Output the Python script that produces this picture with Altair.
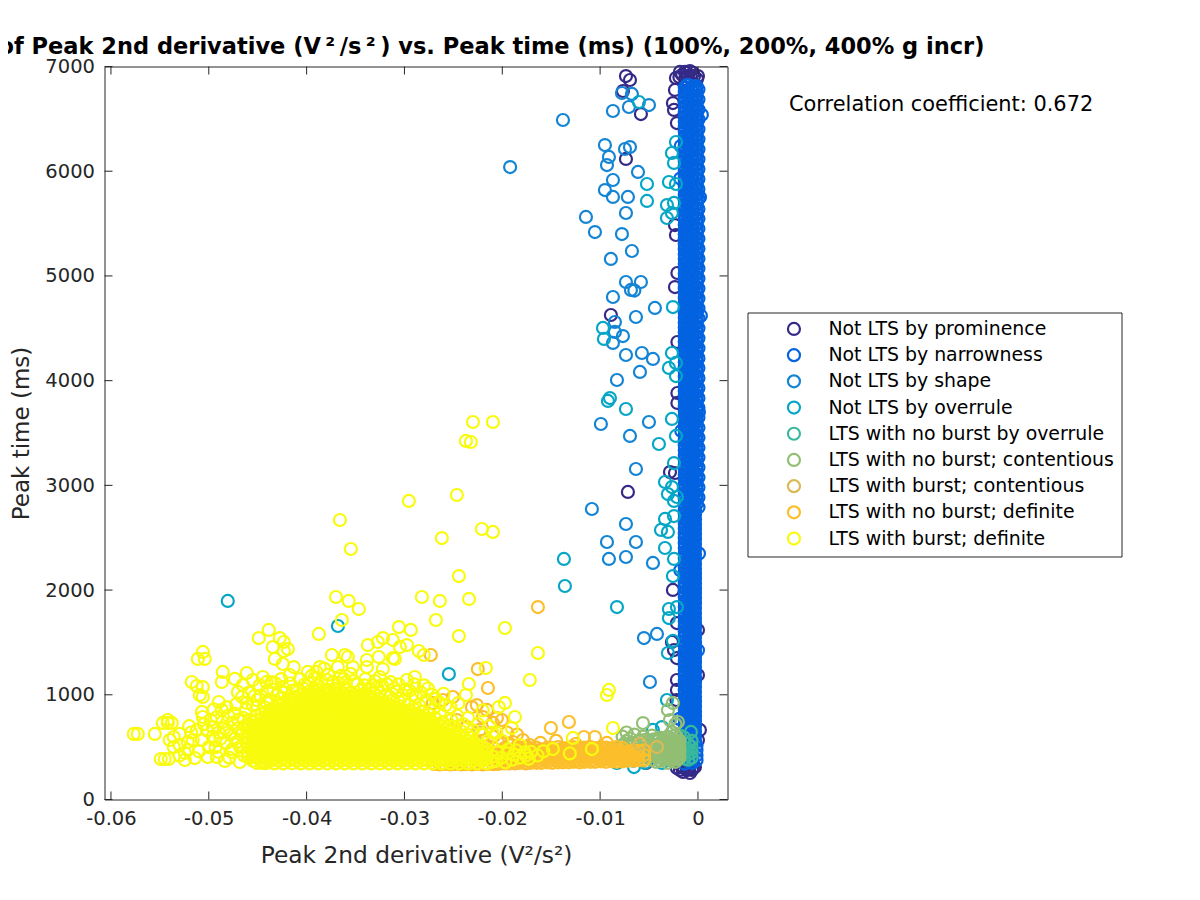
import altair as alt
import pandas as pd

names = ["Not LTS by prominence", "Not LTS by narrowness", "Not LTS by shape", "Not LTS by overrule",
         "LTS with no burst by overrule", "LTS with no burst; contentious", "LTS with burst; contentious",
         "LTS with no burst; definite", "LTS with burst; definite"]
colors = ["#352a87", "#0363e1", "#1485d4", "#06a7c6", "#38b99e", "#92bf73", "#d9ba56", "#fcbf2c", "#f9fb0e"]
x_ticks = [-0.06, -0.05, -0.04, -0.03, -0.02, -0.01, 0]
y_ticks = [0, 1000, 2000, 3000, 4000, 5000, 6000, 7000]
corr_text = ["Correlation coefficient: 0.672"]
title_text = "of Peak 2nd derivative (V\u2009\u00b2\u2009/s\u2009\u00b2\u2009) vs. Peak time (ms) (100%, 200%, 400% g incr)"

# x in units of 0.001 V^2/s^2, y in ms
prominence = [(-7.36,6909),(-6.95,6871),(-7.67,6766),(-5.83,6546),(-7.36,6117),(-8.9,4627),(-7.16,2937),(-2.86,3127),
 (-2.56,2001),(-2.66,1504),(-2.25,6890),(-2.35,6776),(-2.56,6651),(-2.45,6585),(-2.15,6460),(-1.12,6939),(-1.84,6948),
 (-0.51,6939),(-1.33,6948),(-0.82,6957),(0,6909),(-2.1,5028),(-2.35,5486),(-2.25,5391),(-2.35,4894),(-2.1,4369),(-2.1,3882),
 (-2.1,3787),(-2.35,3118),(-2.15,1685),(-2.45,1427),(-2.15,1351),(-2.15,1141),(-2.15,1046),(-2.2,950),(0,1618),(0.2,664),
 (0,568),(0,1189),(-2.15,301),(-1.53,263),(-0.82,253),(-0.31,310),(-1.12,282),(-1.84,282),(-0.61,282),(-5.3,349),
 (-1.6,6920),(-1.0,6900),(-0.4,6910),(-0.1,6880),(-1.9,6900),(-1.3,6880),(-0.7,6890),(-1.45,305),(-0.95,290),(-0.5,300),(-1.7,315),(-1.2,320)]

narrow_a = [342,389,435,483,529,577,622,669,716,762,810,856,903,949,997,1043,1090,1137,1183,1231,1277,1324,1371,1417,1465,
 1511,1558,1605,1651,1699,1745,1792,1839,1885,1933,1979,2026,2073,2119,2167,2213,2260,2307,2353,2401,2447,2494,2541,2587,
 2635,2681,2728,2775,2821,2869,2915,2962,3009,3055,3103,3149,3196,3243,3289,3337,3383,3430,3477,3523,3571,3617,3664,3711,
 3757,3805,3851,3898,3945,3991,4039,4085,4132,4179,4225,4273,4319,4366,4413,4459,4507,4553,4600,4647,4693,4741,4787,4834,
 4881,4927,4975,5021,5068,5115,5161,5209,5255,5302,5349,5395,5443,5489,5536,5583,5629,5677,5723,5770,5817,5863,5911,5957,
 6004,6051,6097,6145,6191,6238,6285,6331,6379,6425,6472,6519,6565,6613,6659,6706,6753,6799]
narrow_b = [365,411,458,506,552,600,645,692,739,785,833,879,926,972,1020,1066,1113,1160,1206,1254,1300,1347,1394,1440,1488,
 1534,1581,1628,1674,1722,1768,1815,1862,1908,1956,2002,2049,2096,2142,2190,2236,2283,2330,2376,2424,2470,2517,2564,2610,
 2658,2704,2751,2798,2844,2892,2938,2985,3032,3078,3126,3172,3219,3266,3312,3360,3406,3453,3500,3546,3594,3640,3687,3734,
 3780,3828,3874,3921,3968,4014,4062,4108,4155,4202,4248,4296,4342,4389,4436,4482,4530,4576,4623,4670,4716,4764,4810,4857,
 4904,4950,4998,5044,5091,5138,5184,5232,5278,5325,5372,5418,5466,5512,5559,5606,5652,5700,5746,5793,5840,5886,5934,5980,
 6027,6074,6120,6168,6214,6261,6308,6354,6402,6448,6495,6542,6588,6636,6682,6729,6776,6822]
narrow_c = [350,397,443,491,537,585,630,677,724,770,818,864,911,957,1005,1051,1098,1145,1191,1239,1285,1332,1379,1425,1473,
 1519,1566,1613,1659,1707,1753,1800,1847,1893,1941,1987,2034,2081,2127,2175,2221,2268,2315,2361,2409,2455,2502,2549,2595,
 2643,2689,2736,2783,2829,2877,2923,2970,3017,3063,3111,3157,3204,3251,3297,3345,3391,3438,3485,3531,3579,3625,3672,3719,
 3765,3813,3859,3906,3953,3999,4047,4093,4140,4187,4233,4281,4327,4374,4421,4467,4515,4561,4608,4655,4701,4749,4795,4842,
 4889,4935,4983,5029,5076,5123,5169,5217,5263,5310,5357,5403,5451,5497,5544,5591,5637,5685,5731,5778,5825,5871,5919,5965,
 6012,6059,6105,6153,6199,6246,6293,6339,6387,6433,6480,6527,6573,6621,6667,6714,6761,6807]
narrow_d = [375,421,470,516,2818,2864,2911,2958,3005,3052,3099,3146,3193,3240,3287,3334,3381,3428,3475,3522,3569,3616,3663,3710,
 3757,3804,3851,3898,3945,3992,4039,4086,4133,4180,4227,4274,4321,4368,4415,4462,4509,4556,4603,4650,4697,4744,4791,4838,
 4885,4932,4979,5026,5073,5120,5167,5214,5261,5308,5355,5402,5449,5496,5543,5590,5637,5684,5731,5778,5825,5872,5919,5966,
 6013,6060,6107,6154,6201,6248,6295,6342,6389,6436,6483,6530,6577,6624,6671,6718,6765,6812]
narrow_e = [560,606,653,700,747,794,841,888,935,982,1029,1076,1123,1170,1217,1264,1311,1358,1405,1452,1499,1546,1593,1640,1687,
 1734,1781,1828,1875,1922,1969,2016,2063,2110,2157,2204,2251,2298,2345,2392,2439,2486,2533,2580,2627,2674,2721,2768]
narrow_f = [372,458,553,648,741,837,932,1026,1121,1215,1309,1404,1498,1592,1687,1781,1876,1970,2064,2159,2253,2348,2442,2536,
 2631,2725,2820,2914,3008,3103,3197,3292,3386,3480,3575,3669,3764,3858,3952,4047,4141,4236,4330,4424,4519,4613,4708,4802,
 4896,4991,5085,5180,5274,5368,5463,5557,5652,5746,5840,5935,6029,6124,6218,6312,6407,6501,6596,6690,6785]
narrow_g = [398,490,586,680,775,869,964,1058,1153,1247,1342,1436,1531,1625,1720,1814,1909,2003,2098,2192,2287,2381,2476,2570,
 2665,2759,2854,2948,3043,3137,3232,3326,3421,3515,3610,3704,3799,3893,3988,4082,4177,4271,4366,4460,4555,4649,4744,4838,
 4933,5027,5122,5216,5311,5405,5500,5594,5689,5783,5878,5972,6067,6161,6256,6350,6445,6539,6634,6728,6823]
narrow_h = [2840,2932,3028,3121,3215,3309,3404,3498,3592,3687,3781,3876,3970,4064,4159,4253,4348,4442,4536,4631,4725,4820,4914,
 5008,5103,5197,5292,5386,5480,5575,5669,5764,5858,5952,6047,6141,6236,6330,6424,6519,6613,6708,6802]
narrow_i = [2790,2885,2980,3075,3170,3265,3360,3455,3550,3645,3740,3835,3930,4025,4120,4215,4310,4405,4500,4595,4690,4785,4880,
 4975,5070,5165,5260,5355,5450,5545,5640,5735,5830,5925,6020,6115,6210,6305,6400,6495,6590,6685,6780]
narrow_edge = [(0.0,1425),(0.1,2350),(0.3,4620),(0.4,6540),(-1.8,5930),(-1.7,3520),(-1.8,2190),(-1.9,770),(-1.75,6240),(0.2,5750),(0.1,3700)]

shape = [(-13.8,6489),(-19.2,6040),(-7.77,6747),(-6.75,6738),(-5.01,6632),(-7.06,6613),(-8.69,6575),(-9.51,6250),(-9.1,6136),
 (-9.3,6059),(-7.46,6212),(-6.95,6231),(-6.13,5993),(-8.69,5916),(-9.51,5820),(-8.69,5754),(-7.16,5754),(-7.36,5601),(-11.45,5563),
 (-10.53,5419),(-7.77,5400),(-6.75,5238),(-8.9,5162),(-7.36,4942),(-5.83,4942),(-6.85,4866),(-6.5,4860),(-8.69,4799),(-4.4,4694),
 (-6.34,4608),(-8.49,4560),(-8.49,4465),(-7.67,4426),(-8.69,4360),(-7.36,4245),(-5.73,4264),(-4.6,4207),(-5.93,4083),(-8.28,4006),
 (-9.92,3586),(-5.01,3605),(-6.95,3472),(-6.34,3156),(-10.84,2774),(-7.36,2631),(-9.3,2459),(-6.34,2459),(-9.1,2297),(-7.36,2316),
 (-4.6,2259),(-5.52,1542),(-4.19,1581),(-4.91,1122),(-4.6,406),(-6.6,370)]
overrule = [(-6.03,6661),(-2.25,6279),(-2.66,6174),(-2.45,6079),(-5.21,5878),(-2.97,5897),(-2.25,5878),(-5.21,5716),(-3.17,5677),
 (-2.45,5697),(-2.66,5601),(-3.17,5553),(-2.56,4703),(-9.71,4503),(-9.61,4398),(-2.66,4264),(-2.25,4169),(-2.97,4121),(-2.25,4044),
 (-9,3834),(-9.2,3806),(-7.36,3729),(-2.66,3634),(-2.25,3472),(-3.99,3395),(-2.45,3213),(-3.37,3032),(-2.66,2984),(-3.07,2917),
 (-2.15,2889),(-2.45,2851),(-2.45,2707),(-3.37,2679),(-3.78,2574),(-3.07,2555),(-3.37,2402),(-2.45,2297),(-13.7,2297),(-13.6,2039),
 (-8.28,1838),(-48.06,1896),(-36.8,1657),(-25.46,1198),(-2.56,2134),(-2.97,1819),(-2.15,1838),(-2.97,1733),(-3.07,1399),(-2.56,1514),
 (-3.17,950),(-6.54,310),(-8.18,492),(-8.28,349),(-3.68,349),(-5.42,349),(-4.6,664),(-3.68,692)]
no_burst_overrule = [(-1.84,400),(-1.84,450),(-1.84,510),(-1.84,560),(-1.84,610),(-1.4,390),(-1.4,440),(-1.4,490),(-1.4,540),(-1.4,590),
 (-1.0,380),(-1.0,430),(-1.0,480),(-1.0,530),(-0.65,400),(-0.65,450),(-0.65,500),(-0.65,560),(-0.72,645)]
contentious_cols = [(-7.7,[440,520,600]),(-7.3,[400,480,560,640]),(-6.9,[420,500,580]),(-6.5,[380,460,540,620]),(-6.0,[400,480,560]),
 (-5.6,[370,440,520,600]),(-5.2,[400,470,550]),(-4.7,[380,450,530,610]),(-4.3,[360,420,490,560]),(-3.9,[370,430,480,530,590]),
 (-3.5,[380,430,480,530,580]),(-3.1,[350,400,450,500,550,600]),(-2.7,[370,420,470,520,570,640]),(-2.3,[360,410,460,510,560,610,720]),
 (-1.9,[400,450,500,560])]
contentious_fill = [(-4.0,[405,455,510]),(-3.7,[395,445,500,555]),(-3.3,[410,460,510,565]),(-2.9,[385,435,485,535,585]),(-2.5,[395,445,495,545]),
 (-2.1,[385,430,480,530,590]),(-5.4,[410,490,570]),(-4.5,[415,495,575]),(-6.2,[430,510]),(-7.1,[450,530])]
contentious_extra = [(-2.56,921),(-3.07,855),(-2.86,759),(-2.05,740),(-5.62,730)]
burst_contentious = [(-22.3,640),(-5.93,530),(-4.19,501)]
definite_sparse = [(-16.36,1838),(-27.3,1380),(-22.5,1246),(-21.47,1065),(-23.1,883),(-22.6,902),(-15.03,683),(-13.19,740),(-21.57,855),
 (-20.96,731),(-27.1,921),(-26.07,950),(-25.05,979),(-21.98,788),(-20.55,778),(-20.04,759),(-22.29,664),(-18.92,549),(-17.89,568),
 (-23.62,692),(-24.64,759),(-11.66,597),(-10.53,597),(-19.5,640),(-18.5,620),(-17.2,520),(-16.1,540),(-14.5,560),(-12.5,530),(-9.3,540)]
definite_band = [(-27,[340,385,430,480]),(-26.4,[335,380,425,470]),(-25.9,[340,390,440,490]),(-25.3,[335,378,428,475]),(-24.8,[340,388,432,485]),
 (-24.2,[335,382,430,480]),(-23.7,[338,385,435,490]),(-23.1,[335,380,430,500]),(-22.6,[340,390,440,520]),(-22,[335,385,430,480,560]),
 (-21.5,[340,390,445,510]),(-20.9,[338,385,435,490,600]),(-20.4,[340,395,445,540]),(-19.8,[345,390,440,490]),(-19.3,[345,395,450,520]),
 (-18.7,[345,390,440,490]),(-18.2,[350,400,445,495]),(-17.6,[345,395,445,500]),(-17.1,[350,400,450,490]),(-16.5,[350,395,445,495]),
 (-16,[350,400,450,480]),(-15.4,[355,400,445,495]),(-14.9,[350,400,450,490]),(-14.3,[355,400,445,500]),(-13.8,[355,405,450,490]),
 (-13.2,[355,400,445,495]),(-12.7,[360,405,455,500]),(-12.1,[355,400,450,490]),(-11.6,[360,405,450,495]),(-11,[360,410,455,500]),
 (-10.5,[360,405,450,490]),(-9.9,[365,410,455,500]),(-9.4,[360,405,450,495]),(-8.8,[365,410,455,490]),(-8.3,[360,410,455,500]),
 (-7.7,[365,410,450,490]),(-7.2,[370,415,460]),(-6.6,[370,420,470]),(-6.1,[375,420,465]),(-5.5,[380,425,470])]
definite_band2 = [(-20.15,[365,415,465]),(-19.55,[368,418,470]),(-19,[370,415,465]),(-18.45,[368,420,470]),(-17.9,[372,420,468]),(-17.35,[370,422,472]),
 (-16.8,[375,420,470]),(-16.25,[372,425,470]),(-15.7,[378,422,470]),(-15.15,[375,425,472]),(-14.6,[378,425,470]),(-14.05,[380,428,475]),
 (-13.5,[378,425,470]),(-12.95,[382,430,478]),(-12.4,[380,428,472]),(-11.85,[382,430,475]),(-11.3,[385,432,478]),(-10.75,[382,430,472]),
 (-10.2,[388,432,478]),(-9.65,[385,430,475]),(-9.1,[388,434,472]),(-8.55,[385,432,478]),(-8,[388,432,470]),(-7.45,[390,436]),(-6.9,[392,440]),(-6.35,[396,444])]

burst_sparse = [(-24.44,2134),(-28.22,1934),(-26.38,1896),(-23.4,1915),(-26.79,1714),(-29.35,1619),(-24.44,1561),(-19.73,1638),(-16.36,1399),
 (-17.18,1141),(-21.68,1256),(-9.1,1046),(-9.3,998),(-8.69,683),(-28.53,1418),(-28.02,1380),(-29.75,1475),(-23.42,1103),(-23.72,998),
 (-19.73,922),(-20.35,883),(-18.71,788),(-19.02,683),(-12.78,588),(-10.84,482),(-14.83,482),(-17.08,454),(-23.0,3605),(-20.96,3605),
 (-23.72,3424),(-23.21,3414),(-24.64,2908),(-29.55,2851),(-36.6,2669),(-35.48,2392),(-26.18,2497),(-22.09,2583),(-20.96,2555),(-37.0,1934),
 (-35.7,1896),(-34.66,1819),(-36.4,1714),(-30.57,1647),(-38.75,1581),(-43.87,1619),(-44.89,1542),(-42.74,1542),(-42.33,1504),(-43.46,1456),
 (-41.92,1437),(-42.33,1418),(-43.25,1342),(-42.43,1294),(-41.31,1265),(-50.6,1409),(-51.12,1342),(-50.41,1342),(-32.2,1542),(-31.19,1523),
 (-33.74,1475),(-30.47,1456),(-32.72,1504),(-37.42,1380),(-36.09,1380),(-35.79,1361),(-32.62,1361),(-31.19,1351),(-30.98,1342),(-33.84,1332),
 (-36.81,1265),(-35.28,1265),(-33.84,1265),(-32.21,1246),(-38.65,1265),(-39.88,1218),(-41.72,1189),(-48.57,1218),(-48.67,1122),(-46.11,1208),
 (-44.48,1170),(-43.56,1122),(-45.5,1141),(-47.34,1151),(-51.74,1122),(-50.61,1074),(-51.23,1084),(-46.52,1093),(-47.03,1027),(-42.43,1074),
 (-32.52,1170),(-28.94,1170),(-29.75,1141),(-35.99,1122),(-37.93,1141),(-50.92,998),(-50.61,979),(-48.98,931),(-50.71,836),(-50.61,788),
 (-42.54,969),(-54.19,731),(-54.7,731),(-53.78,731),(-54.19,759),(-55.52,626),(-57.67,626),(-57.26,626),(-52.97,626),(-53.58,597),(-53.99,568),
 (-51.23,664),(-51.64,568),(-52.15,549),(-52.97,520),(-53.58,501),(-54.91,387),(-54.5,387),(-54.09,387),(-52.45,377),(-51.43,396),(-50.1,406),
 (-48.36,368),(-46.83,358),(-48.98,454),(-49.39,568),(-50.71,568),(-49.18,788),(-48.16,883),(-47.55,731),(-46.11,922),(-45.09,950),(-44.07,922),
 (-48.16,664),(-47.65,454),(-45.81,759),(-46.52,635),(-47.14,549),(-45.6,406),(-44.58,349),(-49.59,692),(-48.67,855),(-52.15,473),(-52.45,444),
 (-49.18,406),(-39.5,1180),(-38.8,1090),(-38.2,1250),(-37.3,1120),(-36.5,1180),(-35.5,1200),(-34.8,1100),(-34,1150),(-33.2,1090),(-32.5,1020),
 (-31.8,1100),(-31,1060),(-30.2,1000),(-29.5,1040),(-28.8,980),(-28,1090),(-27.2,1000),(-26.5,930),(-41,1050),(-40.2,1100),(-43,1000),(-44,1040),
 (-41.8,960),(-40,1000),(-39,1220),(-22,850),(-21.3,700),(-20.6,640),(-20,560),(-19.4,480),(-18.8,430),(-18.2,520),(-17.6,420)]
burst_fringe = [(-49.6,600),(-49,640),(-48.6,740),(-48.2,540),(-47.8,620),(-47.4,820),(-47,680),(-46.8,500),(-46.5,780),(-46.2,860),(-45.9,640),
 (-45.5,900),(-45.1,800),(-44.7,990),(-44.3,880),(-43.8,950),(-43.4,1050),(-42.9,920),(-42.3,1020),(-41.7,1110),(-41.2,980),(-40.7,1150),(-40.3,1060),
 (-39.8,1110),(-39.2,1160),(-38.5,1130),(-37.8,1190),(-37.1,1060),(-36.7,1110),(-36,1060),(-35.2,1130),(-34.5,1040),(-33.6,1060),(-33,1130),(-32.3,1090),
 (-31.5,980),(-30.8,1030),(-30,950),(-29.2,1000),(-28.5,900),(-27.8,940),(-27,870),(-26.4,820),(-25.8,900),(-25.2,760),(-24.6,800),(-24,720),(-23.5,780),
 (-23,660),(-22.5,720),(-22,620),(-21.5,560),(-21,640),(-52,700),(-50.5,720),(-50,500),(-51,460),(-49.5,860),(-53,420),(-51.8,640),
 (-30.5,930),(-29.6,900),(-29,860),(-28.2,840),(-27.5,810),(-26.9,780),(-26.1,740),(-25.5,700),(-24.9,690),(-24.2,650),(-23.6,620),(-23.2,590),
 (-31.9,990),(-33.1,1010),(-32.6,960),(-31.2,950),
 (-50.2,660),(-49.8,760),(-49.3,500),(-48.8,580),(-48.4,680),(-48,800),(-47.6,480),(-47.3,580),(-47,760),(-46.7,620),(-46.4,420),(-46.3,700),
 (-46.1,540),(-47.9,400),(-47.2,910),(-46.6,980),(-45.9,1020),(-45.3,990),(-44.8,1090),(-44.1,1120),(-43.2,1110),(-42.6,1150),(-41.4,1040),
 (-36.2,1150),(-34.1,1090),(-32.8,1070),(-31.4,1120),(-30.6,1100),(-29.9,1050),(-29,1100),(-28.3,1020),(-27.6,1060),(-26.8,960),(-26,1010),(-25.3,880),(-24.5,920)]

burst_cols = [(-46,[405,452,498,540,585,632,680,725]),(-45.5,[370,420,466,510,556,603,650,698,745]),(-45.1,[350,398,440,487,530,577,620,668,712,760,802]),
 (-44.6,[366,410,456,500,545,590,635,680,725,770,815]),(-44.2,[347,392,437,480,525,570,612,658,700,746,790,835]),
 (-43.7,[368,412,458,500,546,588,634,676,722,765,810,852]),(-43.3,[345,391,434,479,523,567,611,655,699,743,787,831,875]),
 (-42.8,[367,413,456,501,545,589,633,677,721,765,809,853,897]),(-42.4,[345,390,433,478,522,566,610,654,698,742,786,830,874,918]),
 (-41.9,[368,411,456,499,544,587,632,675,720,763,808,851,896,940]),(-41.5,[346,391,435,479,522,567,610,655,698,743,786,831,874,919,955]),
 (-41,[367,412,455,500,543,588,631,676,719,764,807,852,895,940,975]),(-40.6,[345,390,433,478,521,566,609,654,697,742,785,830,873,918,962,1000]),
 (-40.1,[368,411,456,499,544,587,632,675,720,763,808,851,896,940,983]),(-39.7,[345,391,432,479,521,567,609,655,697,743,785,831,873,919,961,1005,1030]),
 (-39.2,[368,412,456,500,544,588,632,676,720,764,808,852,896,940,984,1026]),(-38.8,[345,389,433,477,521,565,609,653,697,741,785,829,873,917,961,1005,1045]),
 (-38.3,[367,411,455,499,543,587,631,675,719,763,807,851,895,939,983,1027]),(-37.9,[344,390,432,478,520,566,608,654,696,742,784,830,872,918,960,1006,1048]),
 (-37.4,[366,412,454,500,542,588,630,676,718,764,806,852,894,940,982,1028]),(-37,[345,390,433,478,521,566,609,654,697,742,785,830,873,918,961,1006,1042]),
 (-36.5,[368,411,456,499,544,587,632,675,720,763,808,851,896,939,984,1020]),(-36.1,[345,391,433,479,521,567,609,655,697,743,785,831,873,919,961,1005]),
 (-35.6,[367,412,455,500,543,588,631,676,719,764,807,852,895,940,983,1015]),(-35.2,[345,390,434,478,522,566,610,654,698,742,786,830,874,918,962,1002]),
 (-34.7,[368,412,456,500,544,588,632,676,720,764,808,852,896,940,980]),(-34.3,[345,389,433,477,521,565,609,653,697,741,785,829,873,917,961,998]),
 (-33.8,[367,411,455,499,543,587,631,675,719,763,807,851,895,939,975]),(-33.4,[345,390,432,478,520,566,608,654,696,742,784,830,872,918,955]),
 (-32.9,[368,412,454,500,542,588,630,676,718,764,806,852,894,940]),(-32.5,[345,391,433,479,521,567,609,655,697,743,785,831,873,915]),
 (-32,[367,411,455,499,543,587,631,675,719,763,807,851,895,930]),(-31.6,[345,390,434,478,522,566,610,654,698,742,786,830,874,905]),
 (-31.1,[368,412,456,500,544,588,632,676,720,764,808,852,890]),(-30.7,[345,389,433,477,521,565,609,653,697,741,785,829,873]),
 (-30.2,[367,411,455,499,543,587,631,675,719,763,807,851]),(-29.8,[345,391,432,478,521,566,609,654,697,742,785,830]),
 (-29.3,[368,411,456,499,544,587,632,675,720,763,808,835]),(-28.9,[345,390,433,478,522,566,610,654,698,742,786,810]),
 (-28.4,[367,412,455,500,543,588,631,676,719,764,795]),(-28,[345,389,433,477,521,565,609,653,697,741,775]),
 (-27.5,[368,411,456,499,544,587,632,675,720,755]),(-27.1,[345,391,434,479,522,567,610,655,698,735]),
 (-26.6,[367,412,455,500,543,588,631,676,715]),(-26.2,[345,390,433,478,521,566,609,654,695]),(-25.7,[368,411,456,499,544,587,632,672]),
 (-25.3,[345,389,434,477,522,565,610,650]),(-24.8,[367,412,455,500,543,588,628]),(-24.4,[345,390,433,478,521,566,605]),
 (-23.9,[368,411,456,499,544,582]),(-23.5,[345,391,433,479,521,560]),(-23,[367,412,455,500,540]),(-22.6,[345,389,433,477,520]),
 (-22.1,[368,411,456,500]),(-21.6,[347,392,436,480])]
burst_tail = [(-21.1,360),(-21,410),(-20.6,370),(-20.5,450),(-20.1,400),(-19.7,355),(-19.5,440),(-19,380),(-18.6,470),(-18.2,400),
 (-17.7,450),(-17.3,390),(-16.4,420),(-15.8,460),(-13.1,440)]

rows = []
def add(i, x, y):
    rows.append({"x": x / 1000, "y": y, "s": names[i]})
for x, y in prominence: add(0, x, y)
for x, ys in [(-1.35, narrow_a), (-0.95, narrow_b), (-0.55, narrow_c), (-0.15, narrow_d), (-0.3, narrow_e), (-0.75, narrow_f), (-1.15, narrow_g), (-0.35, narrow_h), (0.05, narrow_i)]:
    for y in ys: add(1, x, y)
for x, y in narrow_edge: add(1, x, y)
for x, y in shape: add(2, x, y)
for x, y in overrule: add(3, x, y)
for x, y in no_burst_overrule: add(4, x, y)
for x, ys in contentious_cols + contentious_fill:
    for y in ys: add(5, x, y)
for x, y in contentious_extra: add(5, x, y)
for x, y in definite_sparse: add(7, x, y)
for x, ys in definite_band + definite_band2:
    for y in ys: add(7, x, y)
for x, y in burst_contentious: add(6, x, y)
for x, y in burst_sparse: add(8, x, y)
for x, y in burst_fringe: add(8, x, y)
for x, ys in burst_cols:
    for y in ys: add(8, x, y)
for x, y in burst_tail: add(8, x, y)
df = pd.DataFrame(rows)

FRAME = "#262626"
x_scale = alt.Scale(domain=[-0.06066, 0.00302], nice=False, zero=False)
y_scale = alt.Scale(domain=[0, 7000], nice=False)
AW, AH = 623, 733

legend = alt.Legend(orient="none", legendX=643, legendY=246, title=None, symbolType="circle", symbolSize=144,
                    symbolStrokeWidth=2.2, symbolOffset=30, labelFont="DejaVu Sans", labelFontSize=18.9, labelColor="#000000",
                    labelOffset=25, strokeColor=FRAME, fillColor="#ffffff", padding=7, rowPadding=5.2, labelLimit=400)

points = alt.Chart(df).mark_point(filled=False, strokeWidth=2.2, size=144, opacity=1).encode(
    x=alt.X("x:Q", scale=x_scale, axis=alt.Axis(values=x_ticks, title="Peak 2nd derivative (V\u00b2/s\u00b2)",
             labelExpr="replace(format(datum.value, '.2~f'), '\u2212', '-')",
             grid=False, domain=False, ticks=False, labelFont="DejaVu Sans", labelFontSize=19.5, labelColor=FRAME, labelPadding=10,
             titleFont="DejaVu Sans", titleFontSize=23.3, titleFontWeight="normal", titleColor=FRAME, titlePadding=16)),
    y=alt.Y("y:Q", scale=y_scale, axis=alt.Axis(values=y_ticks, title="Peak time (ms)", format="d", grid=False, domain=False, ticks=False,
             labelFont="DejaVu Sans", labelFontSize=19.5, labelColor=FRAME, labelPadding=10,
             titleFont="DejaVu Sans", titleFontSize=23, titleFontWeight="normal", titleColor=FRAME, titlePadding=11)),
    color=alt.Color("s:N", scale=alt.Scale(domain=names, range=colors), sort=names, legend=legend),
)

xt = pd.DataFrame({"t": x_ticks})
yt = pd.DataFrame({"t": y_ticks})
tick_color = alt.value(FRAME)
x_bottom = alt.Chart(xt).mark_rule(strokeWidth=1).encode(x=alt.X("t:Q", scale=x_scale), y=alt.value(AH), y2=alt.value(AH - 8), color=tick_color)
x_top = alt.Chart(xt).mark_rule(strokeWidth=1).encode(x=alt.X("t:Q", scale=x_scale), y=alt.value(0), y2=alt.value(8), color=tick_color)
y_left = alt.Chart(yt).mark_rule(strokeWidth=1).encode(y=alt.Y("t:Q", scale=y_scale), x=alt.value(0), x2=alt.value(8), color=tick_color)
y_right = alt.Chart(yt).mark_rule(strokeWidth=1).encode(y=alt.Y("t:Q", scale=y_scale), x=alt.value(AW), x2=alt.value(AW - 8), color=tick_color)

corr = alt.Chart(pd.DataFrame({"t": corr_text})).mark_text(align="left", baseline="middle", font="DejaVu Sans", fontSize=20.9, color="#000000").encode(
    x=alt.value(684.5), y=alt.value(38), text="t:N")

chart = alt.layer(points, x_bottom, x_top, y_left, y_right, corr).properties(
    width=AW, height=AH,
    title=alt.TitleParams(text=title_text, anchor="start", align="left", baseline="alphabetic", frame="group", dx=-106, font="DejaVu Sans", fontSize=22.5, fontWeight="bold", color="#000000", offset=-20),
    autosize=alt.AutoSizeParams(type="none"),
    padding={"left": 96.5, "top": 58.5, "right": 464.5, "bottom": 80},
    background="#ffffff",
).configure_view(stroke=FRAME, strokeWidth=1)

chart.save("out.html", embed_options={"renderer": "svg", "actions": False})
